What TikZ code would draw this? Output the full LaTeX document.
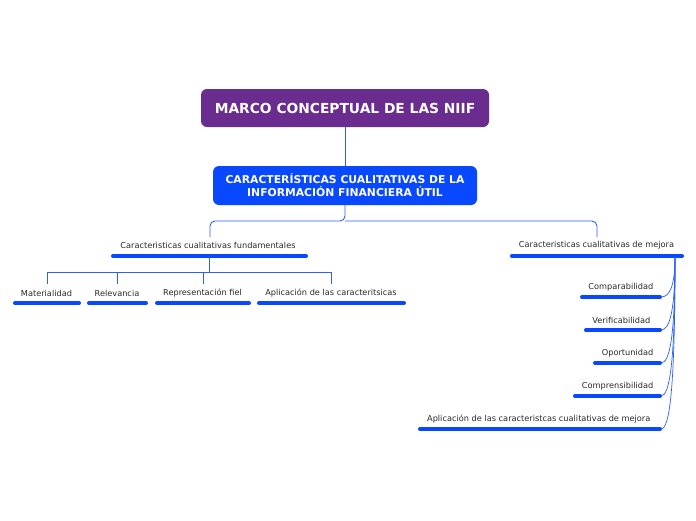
\documentclass[tikz,border=0pt]{standalone}
\usepackage{fontspec}
\setmainfont{DejaVu Sans}
\definecolor{rootpurple}{RGB}{106,44,142}
\definecolor{boxblue}{RGB}{8,72,255}
\definecolor{barblue}{RGB}{8,72,255}
\definecolor{linkblue}{RGB}{45,95,250}
\definecolor{txt}{RGB}{40,40,40}
\begin{document}
\begin{tikzpicture}[x=1pt,y=-1pt,
  rootbox/.style={fill=rootpurple,text=white,rounded corners=6pt,minimum width=288pt,minimum height=38pt,inner sep=0pt,font=\fontsize{13.8}{16}\selectfont\bfseries},
  subbox/.style={fill=boxblue,text=white,rounded corners=6pt,minimum width=264pt,minimum height=39pt,inner sep=0pt,align=center,font=\fontsize{10.8}{13}\selectfont\bfseries},
  lbl/.style={text=txt,inner sep=0pt,font=\fontsize{8.2}{10}\selectfont},
  bar/.style={draw=barblue,line width=4pt,line cap=round},
  conn/.style={draw=linkblue,line width=0.9pt}
]
\useasboundingbox (0,0) rectangle (696,520);

\node[rootbox] (root) at (345,108) {MARCO CONCEPTUAL DE LAS NIIF};
\node[subbox] (cci) at (345,185.5) {CARACTERÍSTICAS CUALITATIVAS DE LA\\INFORMACIÓN FINANCIERA ÚTIL};
\draw[conn] (root.south) -- (cci.north);

% level 2
\node[lbl] (fund) at (208,245) {Caracteristicas cualitativas fundamentales};
\node[lbl] (mej) at (596.5,245) {Caracteristicas cualitativas de mejora};
\coordinate (fundtop) at (210,237);
\coordinate (mejtop) at (597,237);
\coordinate (split) at (345,221);
\draw[bar] (113,256) -- (306,256);
\draw[bar] (512,256) -- (682,256);
\draw[conn,rounded corners=5pt] (cci.south) -- (split) -| (fundtop);
\draw[conn,rounded corners=5pt] (split) -| (mejtop);

% fundamentales children
\coordinate (fundbar) at (209,256);
\coordinate (fsplit) at (209,272);
\node[lbl] (mat) at (46.5,293) {Materialidad};
\node[lbl] (rel) at (117,293) {Relevancia};
\node[lbl] (rep) at (202.5,293) {Representación fiel};
\node[lbl] (apl) at (331,293) {Aplicación de las caracteritsicas};
\coordinate (mattop) at (47,284);
\coordinate (reltop) at (117,284);
\coordinate (reptop) at (203,284);
\coordinate (apltop) at (331,284);
\draw[bar] (15,303) -- (79,303);
\draw[bar] (89,303) -- (146,303);
\draw[bar] (157,303) -- (249,303);
\draw[bar] (259,303) -- (404,303);
\draw[conn] (fundbar) -- (fsplit);
\draw[conn] (fsplit) -| (mattop);
\draw[conn] (fsplit) -| (reltop);
\draw[conn] (fsplit) -| (reptop);
\draw[conn] (fsplit) -| (apltop);

% mejora children
\coordinate (mejbar) at (675,257);
\node[lbl,anchor=east] (comp) at (653.5,287) {Comparabilidad};
\node[lbl,anchor=east] (ver) at (650.5,320) {Verificabilidad};
\node[lbl,anchor=east] (opo) at (653.5,353) {Oportunidad};
\node[lbl,anchor=east] (cpr) at (653.5,386) {Comprensibilidad};
\node[lbl,anchor=east] (apm) at (650.5,419) {Aplicación de las caracteristcas cualitativas de mejora};
\coordinate (compR) at (661,297);
\coordinate (verR) at (661,330);
\coordinate (opoR) at (661,363);
\coordinate (cprR) at (661,396);
\coordinate (apmR) at (661,429);
\draw[bar] (582,297) -- (660,297);
\draw[bar] (586,330) -- (660,330);
\draw[bar] (595,363) -- (660,363);
\draw[bar] (575,396) -- (660,396);
\draw[bar] (420,429) -- (660,429);
\draw[conn,line width=0.7pt] (mejbar) .. controls (675,285) and (670,297) .. (compR);
\draw[conn,line width=0.7pt] (mejbar) .. controls (675,310) and (670,330) .. (verR);
\draw[conn,line width=0.7pt] (mejbar) .. controls (675,335) and (670,363) .. (opoR);
\draw[conn,line width=0.7pt] (mejbar) .. controls (675,360) and (670,396) .. (cprR);
\draw[conn,line width=0.7pt] (mejbar) .. controls (675,385) and (670,429) .. (apmR);
\end{tikzpicture}
\end{document}
